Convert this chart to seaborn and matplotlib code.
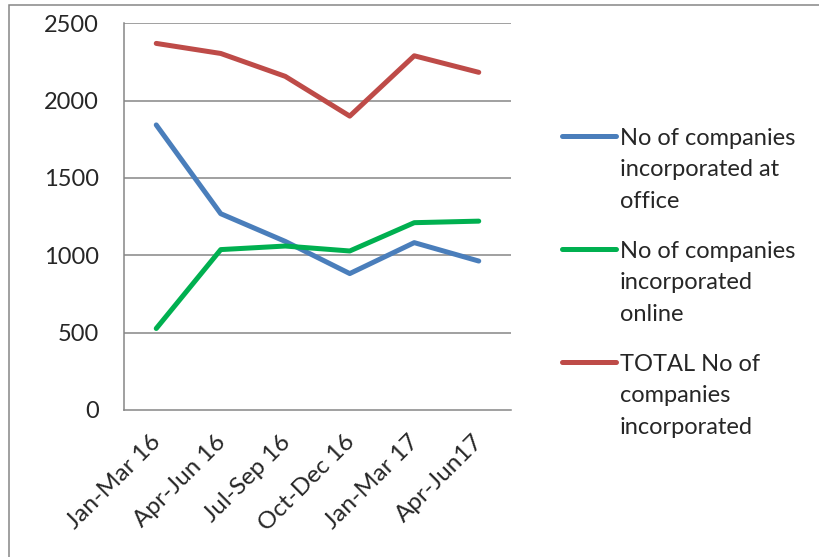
import matplotlib
matplotlib.use("Agg")
import matplotlib.pyplot as plt
import matplotlib.transforms as mtransforms
import pandas as pd
import seaborn as sns
from matplotlib.patches import Rectangle

quarters = ["Jan-Mar 16", "Apr-Jun 16", "Jul-Sep 16", "Oct-Dec 16", "Jan-Mar 17", "Apr-Jun17"]
office = [1843, 1269, 1090, 882, 1082, 963]
online = [527, 1037, 1060, 1028, 1211, 1221]
total = [2370, 2305, 2157, 1900, 2290, 2183]

series_names = [
    "No of companies\nincorporated at\noffice",
    "No of companies\nincorporated\nonline",
    "TOTAL No of\ncompanies\nincorporated",
]
series_colors = ["#4A7EBB", "#00B050", "#BE4B48"]
y_ticks = [0, 500, 1000, 1500, 2000, 2500]

df = pd.concat([
    pd.DataFrame({"quarter": quarters, "value": vals, "series": name})
    for name, vals in zip(series_names, [office, online, total])
])

sns.set_theme(style="white")
plt.rcParams["font.family"] = ["Lato", "DejaVu Sans"]

grid_col = "#868686"
fig = plt.figure(figsize=(8.2, 5.57), dpi=100)
ax = fig.add_axes([124 / 820, 1 - 410 / 557, (511 - 124) / 820, (410 - 23.3) / 557])

sns.lineplot(
    data=df, x="quarter", y="value", hue="series", palette=series_colors,
    hue_order=series_names, sort=False, linewidth=3.6, ax=ax,
    solid_capstyle="round",
)

ax.set_xlim(-0.5, len(quarters) - 0.5)
ax.set_ylim(0, 2500)
ax.set_yticks(y_ticks)
ax.set_yticklabels([str(v) for v in y_ticks], fontsize=17)
ax.set_xticks(range(len(quarters)))
ax.set_xticklabels(quarters, rotation=45, ha="right", va="top",
                   rotation_mode="anchor", fontsize=17.5)
ax.set_xticks([i - 0.5 for i in range(len(quarters) + 1)], minor=True)
ax.tick_params(axis="x", which="major", length=0, pad=8)
ax.tick_params(axis="x", which="minor", length=6, width=1.1, color=grid_col, direction="out")
ax.tick_params(axis="y", length=6, width=1.1, color=grid_col, direction="out", pad=12)
# nudge the slanted labels (after tick_params, which resets their transform)
shift = mtransforms.ScaledTranslation(-6 / 100, -10 / 100, fig.dpi_scale_trans)
for lbl in ax.get_xticklabels():
    lbl.set_transform(lbl.get_transform() + shift)
ax.set_xlabel("")
ax.set_ylabel("")
for y in y_ticks[1:]:
    ax.axhline(y, color=grid_col, linewidth=1.1, zorder=0)
for side in ["top", "right"]:
    ax.spines[side].set_visible(False)
for side in ["left", "bottom"]:
    ax.spines[side].set_color(grid_col)
    ax.spines[side].set_linewidth(1.1)

handles, labels = ax.get_legend_handles_labels()
leg = ax.legend(
    handles, labels, loc="upper left", bbox_to_anchor=(562 / 820, 1 - 128 / 557),
    bbox_transform=fig.transFigure, frameon=False, fontsize=17,
    handlelength=2.3, handletextpad=0.15, labelspacing=1.24, borderpad=0, borderaxespad=0,
)
for t in leg.get_texts():
    t.set_linespacing(1.61)
# put each handle next to the first line of its label
for col in leg._legend_handle_box.get_children():
    for row in col.get_children():
        row.align = "top"

fig.patches.append(Rectangle((9 / 820, -0.1), 1.2, 1.1 - 5 / 557, transform=fig.transFigure,
                             fill=False, edgecolor=grid_col, linewidth=1.1))

fig.savefig("out.png", dpi=100, facecolor="white")
